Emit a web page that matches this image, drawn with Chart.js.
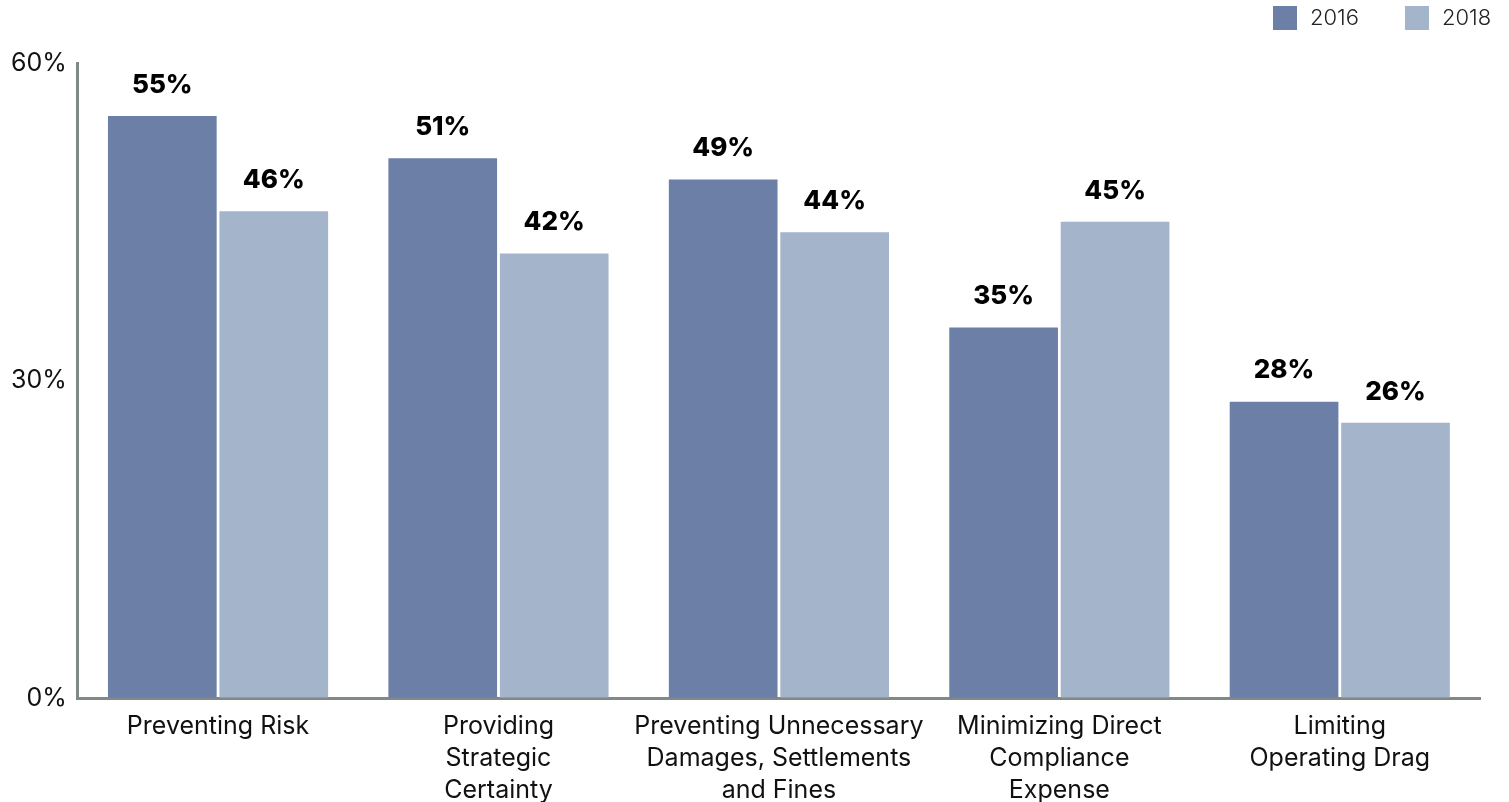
<!DOCTYPE html>
<html>
<head>
<meta charset="utf-8">
<script src="https://cdn.jsdelivr.net/npm/chart.js@4/dist/chart.umd.min.js"></script>
<style>
html,body{margin:0;padding:0;background:#fff;}
#wrap{width:1509px;height:802px;position:relative;}
</style>
</head>
<body>
<div id="wrap"><canvas id="c" width="1509" height="802"></canvas></div>
<script>
const categories = [
  ["Preventing Risk"],
  ["Providing", "Strategic", "Certainty"],
  ["Preventing Unnecessary", "Damages, Settlements", "and Fines"],
  ["Minimizing Direct", "Compliance", "Expense"],
  ["Limiting", "Operating Drag"]
];
const seriesNames = ["2016", "2018"];
const values2016 = [55, 51, 49, 35, 28];
const values2018 = [46, 42, 44, 45, 26];
const yTicks = [0, 30, 60];

const colors = ["#6b7fa7", "#a3b4cb"];
const FONT = "Inter, 'Noto Sans', sans-serif";

const valueLabels = {
  id: 'valueLabels',
  afterDatasetsDraw(chart) {
    const ctx = chart.ctx;
    ctx.save();
    ctx.font = "800 26px " + FONT;
    ctx.fillStyle = "#000";
    ctx.textAlign = "center";
    ctx.textBaseline = "middle";
    chart.data.datasets.forEach((ds, i) => {
      chart.getDatasetMeta(i).data.forEach((bar, j) => {
        ctx.fillText(ds.data[j] + "%", bar.x, bar.y - 31);
      });
    });
    ctx.restore();
  }
};

const customLegend = {
  id: 'customLegend',
  afterDraw(chart) {
    const ctx = chart.ctx;
    ctx.save();
    ctx.font = "300 22px " + FONT;
    ctx.textBaseline = "middle";
    ctx.textAlign = "left";
    const xs = [1273, 1405];
    seriesNames.forEach((n, i) => {
      ctx.fillStyle = colors[i];
      ctx.fillRect(xs[i], 6, 24, 24);
      ctx.fillStyle = "#222";
      ctx.fillText(n, xs[i] + 37, 18);
    });
    ctx.restore();
  }
};

new Chart(document.getElementById('c'), {
  type: 'bar',
  data: {
    labels: categories,
    datasets: [
      { label: seriesNames[0], data: values2016, backgroundColor: colors[0] },
      { label: seriesNames[1], data: values2018, backgroundColor: colors[1] }
    ]
  },
  options: {
    responsive: false,
    animation: false,
    devicePixelRatio: 1,
    layout: { padding: { top: 63, right: 29, left: 0, bottom: 0 } },
    plugins: { legend: { display: false }, tooltip: { enabled: false } },
    datasets: { bar: { categoryPercentage: 0.795, barPercentage: 0.975 } },
    scales: {
      x: {
        afterFit(scale) { scale.height = 104; },
        grid: { display: true, drawOnChartArea: false, drawTicks: false, color: 'transparent' },
        border: { display: true, color: '#7e8988', width: 3 },
        ticks: { color: '#111', font: { family: FONT, size: 25, lineHeight: 1.28 }, padding: 12, maxRotation: 0, autoSkip: false }
      },
      y: {
        min: 0, max: 60,
        afterBuildTicks(scale) { scale.ticks = yTicks.map(v => ({ value: v })); },
        grid: { display: true, drawOnChartArea: false, drawTicks: false, color: 'transparent' },
        border: { display: true, color: '#7e8988', width: 3 },
        ticks: { color: '#111', font: { family: FONT, size: 25 }, padding: 11, callback: v => v + '%' }
      }
    }
  },
  plugins: [valueLabels, customLegend]
});
</script>
</body>
</html>
